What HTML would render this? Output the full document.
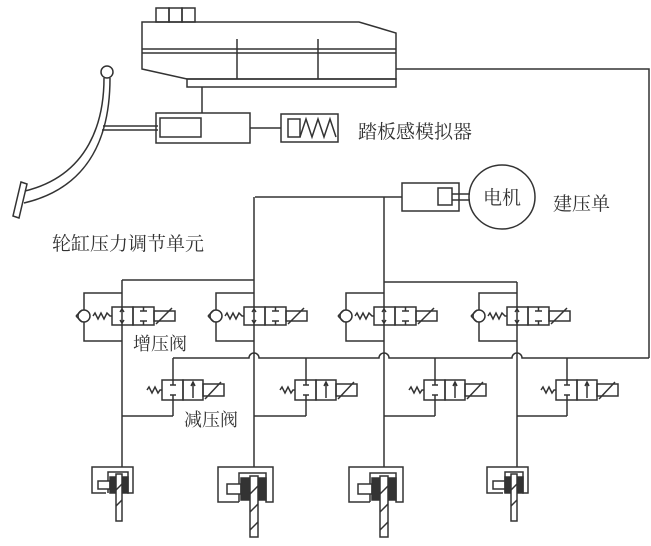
<!DOCTYPE html>
<html><head><meta charset="utf-8"><style>
html,body{margin:0;padding:0;background:#fff;}
svg{display:block;}
text{font-family:"Liberation Serif","Noto Serif CJK SC",serif;fill:#333;}
</style></head><body>
<svg width="651" height="546" viewBox="0 0 651 546" xmlns="http://www.w3.org/2000/svg">
<defs>
<g id="inc" fill="none" stroke="#333" stroke-width="1.5">
  <rect x="-10" y="-9" width="21" height="18"/>
  <rect x="11" y="-9" width="21" height="18"/>
  <path d="M21.5 -9 V-5 M18 -5 H25 M21.5 9 V5 M18 5 H25"/>
  <path d="M-2 -4 L0 -7 L2 -4 M-2 4 L0 7 L2 4"/>
  <rect x="32" y="-5" width="21" height="10"/>
  <path d="M34 8 L50 -8"/>
  <polyline points="-29,0 -27,-3 -24,3 -21,-3 -18,3 -15,-3 -12,0 -10,0"/>
  <circle cx="-38" cy="0" r="6"/>
  <path d="M-46 0 L-40 -6 M-46 0 L-40 6"/>
  <polyline points="0,-23 -38,-23 -38,-6"/>
  <polyline points="-38,6 -38,25 0,25"/>
</g>
<g id="dec" fill="none" stroke="#333" stroke-width="1.5">
  <rect x="-11" y="-10" width="21" height="20"/>
  <rect x="10" y="-10" width="20" height="20"/>
  <path d="M0 -10 V-5 M-3 -5 H3 M0 10 V5 M-3 5 H3"/>
  <path d="M20 8 V-8 M18 -4 L20 -8 L22 -4"/>
  <rect x="30" y="-6" width="21" height="12"/>
  <path d="M32 9 L48 -8"/>
  <polyline points="-26,0 -24,-3 -21,3 -18,-3 -15,3 -13,0 -11,0"/>
  <path d="M0 -10 V-32 M0 10 V26"/>
</g>
</defs>
<g fill="none" stroke="#333" stroke-width="1.5">
  <rect x="156" y="8" width="13" height="14"/><rect x="169" y="8" width="13" height="14"/><rect x="182" y="8" width="13" height="14"/>
  <polygon points="142,22 359,22 396,33 396,79 187,79 142,69"/>
  <rect x="187" y="79" width="209" height="8"/>
  <path d="M142 49 H396 M142 53 H396 M237 39 V79 M318 39 V79"/>
  <path d="M202 87 V113"/>
  <path d="M396 69 H649 V358"/>
  <rect x="156" y="113" width="94" height="30"/>
  <rect x="160" y="118" width="41" height="19"/>
  <path d="M250 128 H281"/>
  <rect x="281" y="114" width="57" height="28"/>
  <rect x="288" y="119" width="12" height="18"/>
  <polyline points="300,137 306,119 312,137 318,119 324,137 330,119 336,137"/>
  <circle cx="107" cy="72" r="6"/>
  <path d="M110 78 C110 120 100 185 24 203"/>
  <path d="M104 78 C104 120 90 175 25 191"/>
  <polygon points="21,182 27,184 19,218 13,216"/>
  <path d="M103 126 H158 M102 130 H158"/>
  <rect x="402" y="183" width="57" height="28"/>
  <rect x="438" y="188" width="14" height="17"/>
  <path d="M452 194 H470 M452 200 H470"/>
  <ellipse cx="502" cy="197" rx="33" ry="32"/>
  <path d="M255 197 H402"/>
  <path d="M254 197 V467 M384 197 V467 M122 280 V467 M517 282 V467 M122 280 H254 M384 282 H517"/>
  <path d="M173 358 H249 A5 5 0 0 1 259 358 H379 A5 5 0 0 1 389 358 H512 A5 5 0 0 1 522 358 H649"/>
  <path d="M173 416 H122 M306 416 H254 M435 416 H384 M567 416 H517"/>
</g>
<use href="#inc" transform="translate(122,316)"/>
<use href="#inc" transform="translate(254,316)"/>
<use href="#inc" transform="translate(384,316)"/>
<use href="#inc" transform="translate(517,316)"/>
<use href="#dec" transform="translate(173,390)"/>
<use href="#dec" transform="translate(306,390)"/>
<use href="#dec" transform="translate(435,390)"/>
<use href="#dec" transform="translate(567,390)"/>
<g fill="none" stroke="#333" stroke-width="1.5">
  <g>
    <path d="M106 493 H92 V467 H133 V493 H128 V472 H108 V493"/>
    <rect x="98" y="481" width="12" height="8" fill="#fff"/>
    <rect x="110" y="477" width="18" height="16" fill="#333"/>
    <rect x="116" y="474" width="6" height="47" fill="#fff"/>
    <path d="M116 490 L122 484 M116 506 L122 500"/>
  </g>
  <g>
    <path d="M239 502 H218 V467 H273 V502 H266 V473 H239 V502"/>
    <rect x="227" y="484" width="14" height="10" fill="#fff"/>
    <rect x="241" y="478" width="25" height="22" fill="#333"/>
    <rect x="250" y="476" width="8" height="61" fill="#fff"/>
    <path d="M250 494 L258 486 M250 512 L258 504 M250 530 L258 522"/>
  </g>
  <g>
    <path d="M370 502 H349 V467 H403 V502 H396 V473 H370 V502"/>
    <rect x="358" y="484" width="14" height="10" fill="#fff"/>
    <rect x="372" y="478" width="24" height="22" fill="#333"/>
    <rect x="380" y="476" width="8" height="61" fill="#fff"/>
    <path d="M380 494 L388 486 M380 512 L388 504 M380 530 L388 522"/>
  </g>
  <g>
    <path d="M503 493 H487 V467 H528 V493 H523 V472 H505 V493"/>
    <rect x="493" y="481" width="12" height="8" fill="#fff"/>
    <rect x="505" y="477" width="18" height="16" fill="#333"/>
    <rect x="511" y="474" width="6" height="47" fill="#fff"/>
    <path d="M511 490 L517 484 M511 506 L517 500"/>
  </g>
</g>
<text x="358" y="138" font-size="19">踏板感模拟器</text>
<text x="502" y="204" font-size="19" text-anchor="middle">电机</text>
<text x="553" y="210" font-size="19">建压单</text>
<text x="52" y="250" font-size="19">轮缸压力调节单元</text>
<text x="133" y="350" font-size="18">增压阀</text>
<text x="184" y="426" font-size="18">减压阀</text>
</svg>
</body></html>
